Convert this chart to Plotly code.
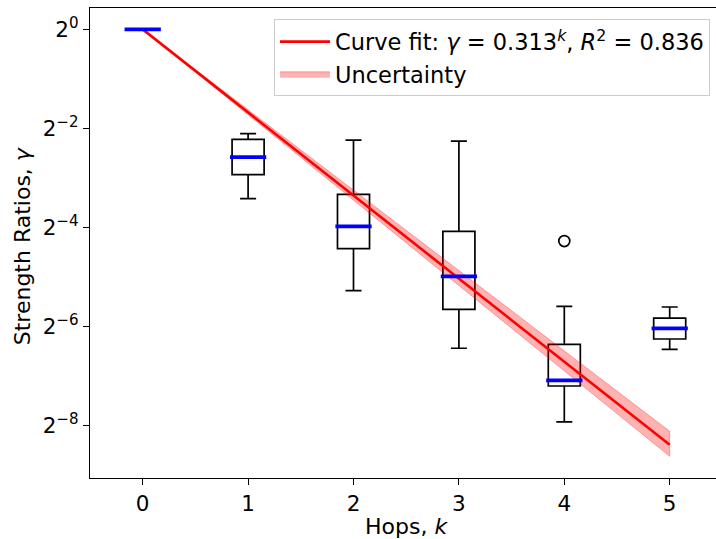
import numpy as np
import plotly.graph_objects as go

# ---- data (values as powers of two) ----
hops = [0, 1, 2, 3, 4, 5]
lower_log2 = [0.0, -3.415, -5.270, -6.433, -7.919, -6.454]
q1_log2 = [0.0, -2.931, -4.423, -5.647, -7.194, -6.246]
median_log2 = [0.0, -2.577, -3.974, -4.982, -7.079, -6.030]
q3_log2 = [0.0, -2.220, -3.329, -4.075, -6.353, -5.823]
upper_log2 = [0.0, -2.105, -2.234, -2.254, -5.587, -5.601]
outlier_hops = [4]
outlier_log2 = [-4.270]

fit_base = 0.313
fit_base_low = 0.303
fit_base_high = 0.325
fit_r2 = 0.836

ytick_exponents = [0, -2, -4, -6, -8]

def p2(vals):
    return [2.0 ** v for v in vals]

FONT = "DejaVu Sans"
fig = go.Figure()

# boxes (black), medians drawn separately in blue
for i, k in enumerate(hops):
    fig.add_trace(go.Box(
        x=[k], q1=[2 ** q1_log2[i]], median=[2 ** median_log2[i]], q3=[2 ** q3_log2[i]],
        lowerfence=[2 ** lower_log2[i]], upperfence=[2 ** upper_log2[i]],
        width=0.304, whiskerwidth=0.5, fillcolor="rgba(0,0,0,0)",
        line=dict(color="black", width=1.7), boxpoints=False,
        showlegend=False, hoverinfo="skip"))

# uncertainty band
kk = np.linspace(0, 5, 60)
band_x = np.concatenate([kk, kk[::-1]])
band_y = np.concatenate([fit_base_high ** kk, (fit_base_low ** kk)[::-1]])
fig.add_trace(go.Scatter(
    x=band_x, y=band_y, fill="toself", mode="lines",
    fillcolor="rgba(255,0,0,0.3)", line=dict(color="rgba(255,0,0,0.3)", width=1),
    name="Uncertainty", legendrank=2, legendgroup="b"))

# fit line
fig.add_trace(go.Scatter(
    x=kk, y=fit_base ** kk, mode="lines", line=dict(color="red", width=2.6),
    name=f"Curve fit: <i>γ</i> = {fit_base}<sup><i>k</i></sup>, <i>R</i><sup>2</sup> = {fit_r2}",
    legendrank=1, legendgroup="a"))

# medians
mx, my = [], []
for k, m in zip(hops, median_log2):
    mx += [k - 0.172, k + 0.172, None]
    my += [2 ** m, 2 ** m, None]
fig.add_trace(go.Scatter(x=mx, y=my, mode="lines", line=dict(color="blue", width=3.8),
                         showlegend=False, hoverinfo="skip"))

# outliers
fig.add_trace(go.Scatter(
    x=outlier_hops, y=p2(outlier_log2), mode="markers",
    marker=dict(symbol="circle-open", size=11, color="black", line=dict(width=1.7)),
    showlegend=False))

W, H = 716, 539
L, T, B = 90, 7.5, 61
R = 0
ppu = 105.4
x_right = -0.5 + (W - L - R) / ppu

fig.update_layout(
    width=W, height=H, margin=dict(l=L, r=R, t=T, b=B),
    paper_bgcolor="white", plot_bgcolor="white",
    font=dict(family=FONT, size=22, color="black"),
    legend=dict(x=(710 - L) / (W - L), y=(H - B - 19) / (H - B - T), xanchor="right", yanchor="top",
                bgcolor="rgba(255,255,255,0.8)", bordercolor="#cccccc", borderwidth=1,
                font=dict(family=FONT, size=22.5), traceorder="normal", tracegroupgap=5,
                itemwidth=50),
    showlegend=True,
)
fig.update_xaxes(
    range=[-0.5, x_right], tickmode="array", tickvals=hops, ticktext=[str(h) for h in hops],
    showline=True, linecolor="black", linewidth=1.3, mirror=True,
    ticks="outside", ticklen=6, tickwidth=1.3, tickcolor="black",
    showgrid=False, zeroline=False, tickfont=dict(size=21.5))
fig.update_yaxes(
    type="log", range=[-9.05 * np.log10(2), 0.431 * np.log10(2)],
    tickmode="array", tickvals=[2.0 ** e for e in ytick_exponents],
    ticktext=[f"2<sup>{str(e).replace('-', '−')}</sup>" for e in ytick_exponents],
    showline=True, linecolor="black", linewidth=1.3, mirror=False,
    ticks="outside", ticklen=6, tickwidth=1.3, tickcolor="black",
    showgrid=False, zeroline=False, tickfont=dict(size=21.5))

fig.add_annotation(text="Hops, <i>k</i>", xref="paper", yref="paper",
                   x=(406 - L) / (W - L), y=(H - B - 527) / (H - B - T),
                   xanchor="center", yanchor="middle", showarrow=False, font=dict(size=22))
fig.add_annotation(text="Strength Ratios, <i>γ</i>", xref="paper", yref="paper",
                   x=(22 - L) / (W - L), y=(H - B - 246) / (H - B - T), textangle=-90,
                   xanchor="center", yanchor="middle", showarrow=False, font=dict(size=22))

fig.write_html("out.html")
